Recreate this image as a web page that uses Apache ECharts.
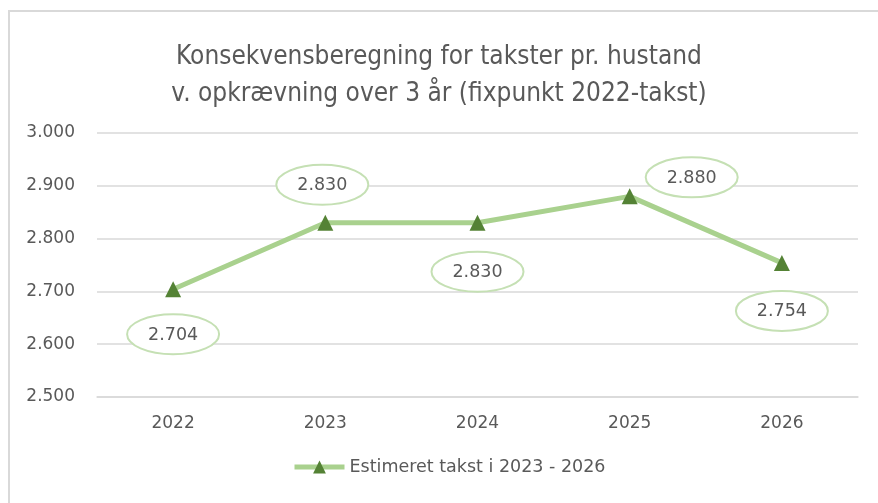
<!DOCTYPE html>
<html>
<head>
<meta charset="utf-8">
<script src="https://cdn.jsdelivr.net/npm/echarts@6/dist/echarts.min.js"></script>
<style>
  html, body { margin: 0; padding: 0; background: #fff; }
  #chart { width: 878px; height: 503px; }
</style>
</head>
<body>
<div id="chart"></div>
<script>
// data
const years = ['2022', '2023', '2024', '2025', '2026'];
const takst = [2704, 2830, 2830, 2880, 2754];
const seriesName = 'Estimeret takst i 2023 - 2026';

// where each value bubble sits relative to its point (layout only)
const bubbleOffsets = [[0, 45], [-3, -38], [0, 49], [62, -19], [0, 48]];

const grey = '#595959';
const narrow = '"Liberation Sans Narrow", "DejaVu Sans Condensed", sans-serif';

function fmtThousand(v) {
  return String(Math.round(v)).replace(/\B(?=(\d{3})+(?!\d))/g, '.');
}

let chart = echarts.init(document.getElementById('chart'));
let option = {
  animation: false,
  title: {
    text: 'Konsekvensberegning for takster pr. hustand\nv. opkrævning over 3 år (fixpunkt 2022-takst)',
    left: 'center',
    top: 34,
    textStyle: {
      color: grey,
      fontFamily: narrow,
      fontSize: 26,
      fontWeight: 'normal',
      lineHeight: 37,
    },
  },
  graphic: [{
    type: 'rect',
    shape: { x: 9, y: 11, width: 900, height: 600 },
    style: { fill: 'none', stroke: '#d9d9d9', lineWidth: 2 },
    silent: true,
  }],
  legend: {
    bottom: 22,
    left: 287,
    itemWidth: 50,
    itemHeight: 16,
    itemGap: 10,
    lineStyle: { width: 5, color: '#a9d18e' },
    textStyle: { color: grey, fontSize: 17.5, fontFamily: 'DejaVu Sans' },
    data: [seriesName],
  },
  grid: { left: 97, right: 20, top: 133, bottom: 106 },
  xAxis: {
    type: 'category',
    data: years,
    axisLine: { lineStyle: { color: '#d9d9d9', width: 1.5 } },
    axisTick: { show: false },
    axisLabel: { color: grey, fontSize: 17, fontFamily: 'DejaVu Sans', margin: 18 },
  },
  yAxis: {
    type: 'value',
    min: 2500,
    max: 3000,
    interval: 100,
    axisLine: { show: false },
    axisTick: { show: false },
    splitLine: { lineStyle: { color: '#d9d9d9', width: 1.5 } },
    axisLabel: {
      color: grey, fontSize: 17, fontFamily: 'DejaVu Sans', margin: 22,
      formatter: fmtThousand,
    },
  },
  series: [
    {
      name: seriesName,
      type: 'line',
      data: takst,
      symbol: 'triangle',
      symbolSize: 16,
      lineStyle: { color: '#a9d18e', width: 5 },
      itemStyle: { color: '#548235' },
      z: 3,
    },
    {
      name: 'labels',
      type: 'custom',
      data: takst.map((v, i) => [i, v]),
      z: 4,
      silent: true,
      renderItem: function (params, api) {
        let pt = api.coord([api.value(0), api.value(1)]);
        let off = bubbleOffsets[params.dataIndex];
        let cx = pt[0] + off[0];
        let cy = pt[1] + off[1];
        return {
          type: 'group',
          children: [
            {
              type: 'path',
              x: cx,
              y: cy,
              shape: { pathData: 'M-46,0 A46,20 0 1,0 46,0 A46,20 0 1,0 -46,0 Z' },
              style: { fill: '#fff', stroke: '#c5e0b4', lineWidth: 2 },
            },
            {
              type: 'text',
              x: cx,
              y: cy + 1,
              style: {
                text: fmtThousand(api.value(1)),
                fill: grey,
                font: '17.5px "DejaVu Sans"',
                align: 'center',
                verticalAlign: 'middle',
              },
            },
          ],
        };
      },
    },
  ],
};

option && chart.setOption(option);
</script>
</body>
</html>
